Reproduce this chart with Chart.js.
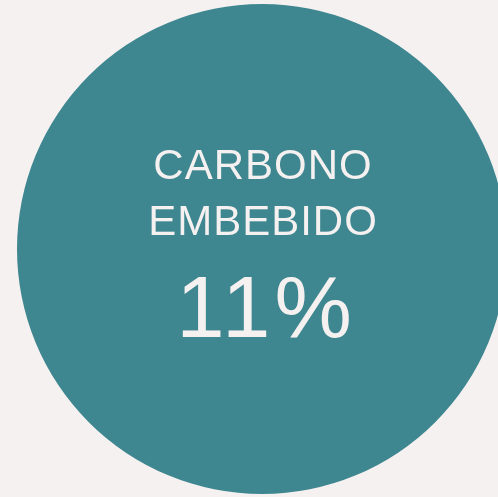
<!DOCTYPE html>
<html>
<head>
<meta charset="utf-8">
<script src="https://cdn.jsdelivr.net/npm/chart.js@4"></script>
<style>
  html, body { margin: 0; padding: 0; background: #f5f1f0; overflow: hidden; width: 498px; height: 497px; }
  #wrap { position: absolute; left: 17px; top: 4px; width: 490px; height: 490px; }
</style>
</head>
<body>
<div id="wrap"><canvas id="myChart" width="490" height="490"></canvas></div>
<script>
// label lines and the figure shown inside the circle
const titleLines = ['CARBONO', 'EMBEBIDO']
const sliceValues = [100]
const share = 11

const centerText = {
    id: 'centerText',
    afterDraw(chart) {
        const ctx = chart.ctx
        const meta = chart.getDatasetMeta(0).data[0]
        const cx = meta.x, cy = meta.y
        ctx.save()
        ctx.fillStyle = '#f5f1f0'
        ctx.textAlign = 'center'
        ctx.textBaseline = 'alphabetic'
        ctx.font = '42px "Liberation Sans", Arial, sans-serif'
        ctx.letterSpacing = '1px'
        ctx.fillText(titleLines[0], cx + 1, cy - 70)
        ctx.fillText(titleLines[1], cx + 1, cy - 14)
        ctx.font = '87px "Liberation Sans", Arial, sans-serif'
        ctx.letterSpacing = '4px'
        ctx.fillText(share + '%', cx + 4, cy + 88)
        ctx.restore()
    }
}

new Chart(document.getElementById('myChart').getContext('2d'), {
    type: 'pie',
    data: {
        labels: [titleLines.join(' ')],
        datasets: [{
            data: sliceValues,
            backgroundColor: '#3e8690',
            borderWidth: 0,
            hoverOffset: 0
        }]
    },
    options: {
        responsive: false,
        animation: false,
        layout: { padding: 0 },
        plugins: { legend: { display: false }, tooltip: { enabled: false } }
    },
    plugins: [centerText]
});
</script>
</body>
</html>
